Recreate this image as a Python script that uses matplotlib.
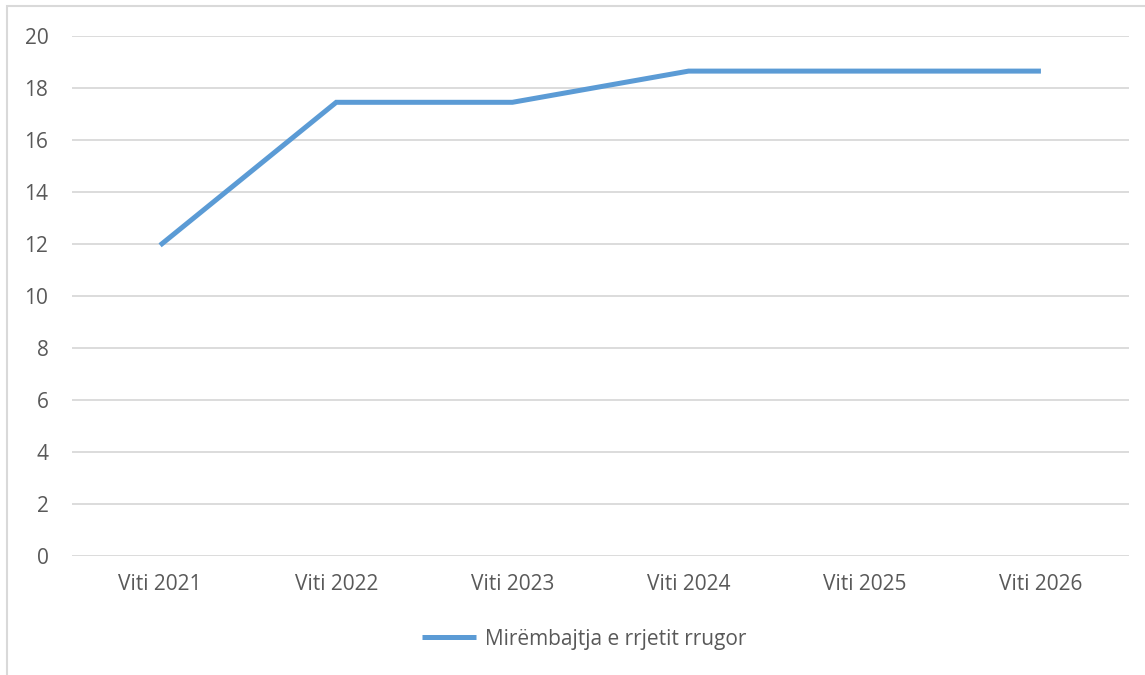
import matplotlib
matplotlib.use("Agg")
import matplotlib.pyplot as plt
from matplotlib.patches import Rectangle

categories = ["Viti 2021", "Viti 2022", "Viti 2023", "Viti 2024", "Viti 2025", "Viti 2026"]
values = [11.95, 17.45, 17.45, 18.65, 18.65, 18.65]
series_name = "Mirëmbajtja e rrjetit rrugor"
yticks = [0, 2, 4, 6, 8, 10, 12, 14, 16, 18, 20]

W, H = 1145, 675
fig = plt.figure(figsize=(W / 100, H / 100), dpi=100)
plt.rcParams['font.family'] = ['Open Sans', 'DejaVu Sans']

ax = fig.add_axes([72 / W, 1 - 556 / H, (1129 - 72) / W, (556 - 36) / H])
x = list(range(len(categories)))
line, = ax.plot(x, values, color="#5B9BD5", linewidth=3.6, solid_capstyle="butt",
                solid_joinstyle="miter", label=series_name, zorder=3)
ax.set_xlim(-0.5, len(categories) - 0.5)
ax.set_ylim(0, 20)
ax.set_yticks(yticks)
ax.set_xticks(x)
ax.set_xticklabels(categories)
for s in ax.spines.values():
    s.set_visible(False)
ax.tick_params(axis="both", length=0, labelsize=15, colors="#595959")
ax.tick_params(axis="y", pad=17)
ax.tick_params(axis="x", pad=13)
ax.grid(axis="y", color="#D9D9D9", linewidth=1.3)
ax.set_axisbelow(True)

fig.legend(handles=[line], loc="center", bbox_to_anchor=(584 / W, 1 - 639 / H),
           frameon=False, fontsize=15, labelcolor="#595959", handlelength=2.6,
           handletextpad=0.4)

fig.patches.append(Rectangle((7 / W, -0.1), 1.2, 1 - 6 / H + 0.1, transform=fig.transFigure,
                             fill=False, edgecolor="#D9D9D9", linewidth=1.5))

fig.savefig("out.png", dpi=100, facecolor="white")
